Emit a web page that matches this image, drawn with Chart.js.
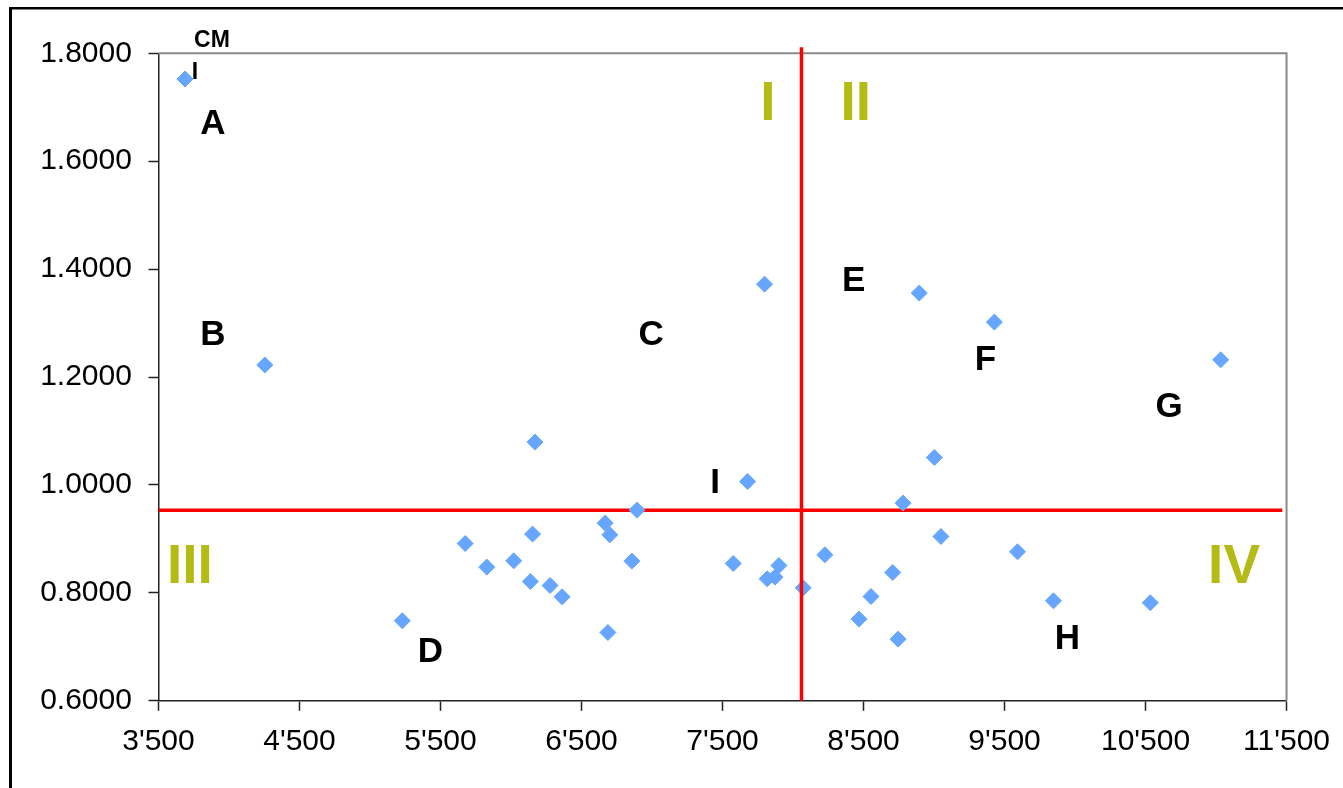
<!DOCTYPE html>
<html>
<head>
<meta charset="utf-8">
<script src="https://cdn.jsdelivr.net/npm/chart.js@4"></script>
<style>
  html, body { margin: 0; padding: 0; background: #fff; }
  #wrap { width: 1343px; height: 788px; position: relative; }
</style>
</head>
<body>
<div id="wrap"><canvas id="c" width="1343" height="788"></canvas></div>
<script>
// ---- data ----
const xValues = [3688, 4254, 6170, 7798, 8895, 9428, 11033, 7678, 9002, 8780,
                 6893, 6668, 6701, 6153, 5675, 9049, 9592, 8226, 5828, 6019,
                 6857, 7576, 7900, 7817, 7872, 6137, 6277, 8707, 6362, 8072,
                 8553, 9847, 10534, 5229, 8468, 6687, 8745];
const yValues = [1.7523, 1.2223, 1.0794, 1.3722, 1.3556, 1.3018, 1.2319, 1.0064, 1.0509, 0.9664,
                 0.9534, 0.9293, 0.9076, 0.9089, 0.8915, 0.9045, 0.8761, 0.8706, 0.8478, 0.8594,
                 0.8589, 0.8545, 0.8507, 0.8261, 0.8292, 0.8211, 0.8137, 0.8378, 0.7927, 0.8094,
                 0.7933, 0.7853, 0.7816, 0.7483, 0.7514, 0.7266, 0.7143];
const splitX = 8060;
const splitY = 0.953;
const xTicks = [3500, 4500, 5500, 6500, 7500, 8500, 9500, 10500, 11500];
const yTicks = [0.6, 0.8, 1.0, 1.2, 1.4, 1.6, 1.8];

// annotation texts placed in data coordinates
const letterTexts = ['A', 'B', 'C', 'D', 'E', 'F', 'G', 'H', 'I'];
const letterX = [3886, 3886, 6994, 5429, 8431, 9365, 10668, 9946, 7447];
const letterY = [1.673, 1.282, 1.282, 0.696, 1.382, 1.236, 1.1486, 0.7186, 1.0077];
const smallTexts = ['CM', 'I'];
const smallX = [3879, 3758];
const smallY = [1.8268, 1.7675];
const quadTexts = ['I', 'II', 'III', 'IV'];
const quadX = [7822, 8445, 3723, 11128];
const quadY = [1.712, 1.712, 0.8557, 0.8557];

// ---- build ----
const points = xValues.map((x, i) => ({ x: x, y: yValues[i] }));
const fmtX = v => String(Math.round(v)).replace(/\B(?=(\d{3})+(?!\d))/g, "'");

const decor = {
  id: 'decor',
  beforeDraw(chart) {
    const ctx = chart.ctx;
    ctx.save();
    ctx.fillStyle = '#fff';
    ctx.fillRect(0, 0, chart.width, chart.height);
    ctx.fillStyle = '#000';
    ctx.fillRect(9, 7, 3, chart.height);
    ctx.fillRect(9, 7, chart.width, 2.5);
    ctx.restore();
  },
  beforeDatasetsDraw(chart) {
    const ctx = chart.ctx, a = chart.chartArea;
    ctx.save();
    ctx.strokeStyle = '#8a8a8a';
    ctx.lineWidth = 2;
    ctx.beginPath();
    ctx.moveTo(a.left, a.top);
    ctx.lineTo(a.right, a.top);
    ctx.lineTo(a.right, a.bottom);
    ctx.stroke();
    ctx.restore();
  },
  afterDatasetsDraw(chart) {
    const ctx = chart.ctx, xs = chart.scales.x, ys = chart.scales.y;
    ctx.save();
    ctx.textAlign = 'center';
    ctx.textBaseline = 'alphabetic';
    const put = (texts, xv, yv, size, color) => {
      ctx.font = 'bold ' + size + 'px "Liberation Sans", Arial, sans-serif';
      ctx.fillStyle = color;
      texts.forEach((t, i) => {
        const px = xs.getPixelForValue(xv[i]);
        const py = ys.getPixelForValue(yv[i]) + size * 0.358;
        ctx.fillText(t, px, py);
      });
    };
    put(letterTexts, letterX, letterY, 35, '#000');
    put(smallTexts, smallX, smallY, 23, '#000');
    put(quadTexts, quadX, quadY, 55, '#B4BB14');
    ctx.restore();
  }
};

new Chart(document.getElementById('c'), {
  type: 'scatter',
  data: {
    datasets: [
      {
        label: 'vertical',
        data: [{ x: splitX, y: 0.6 }, { x: splitX, y: 1.811 }],
        showLine: true,
        borderColor: '#FF0000',
        borderWidth: 3.5,
        pointRadius: 0,
        clip: false,
        order: 0
      },
      {
        label: 'data',
        data: points,
        pointStyle: 'rectRot',
        pointRadius: 8,
        pointBorderWidth: 1,
        backgroundColor: '#66A6FF',
        borderColor: '#66A6FF',
        order: 1
      },
      {
        label: 'horizontal',
        data: [{ x: 3500, y: splitY }, { x: 11470, y: splitY }],
        showLine: true,
        borderColor: '#FF0000',
        borderWidth: 3.5,
        pointRadius: 0,
        order: 2
      }
    ]
  },
  options: {
    responsive: false,
    animation: false,
    devicePixelRatio: 1,
    layout: { padding: { left: 0, top: 53.3, right: 54.5, bottom: 0 } },
    plugins: { legend: { display: false }, tooltip: { enabled: false } },
    scales: {
      x: {
        type: 'linear',
        min: 3500, max: 11500,
        afterFit(s) { s.height = 788 - 700.8; },
        afterBuildTicks(s) { s.ticks = xTicks.map(v => ({ value: v })); },
        border: { display: true, color: '#222', width: 1.5 },
        grid: { drawOnChartArea: false, drawTicks: true, tickLength: 10, tickColor: '#222', tickWidth: 1.5 },
        ticks: {
          padding: 13,
          maxRotation: 0,
          autoSkip: false,
          color: '#000',
          font: { family: '"Liberation Sans", Arial, sans-serif', size: 30 },
          callback: v => fmtX(v)
        }
      },
      y: {
        type: 'linear',
        min: 0.6, max: 1.8,
        afterFit(s) { s.width = 158.5; },
        afterBuildTicks(s) { s.ticks = yTicks.map(v => ({ value: v })); },
        border: { display: true, color: '#222', width: 1.5 },
        grid: { drawOnChartArea: false, drawTicks: true, tickLength: 10, tickColor: '#222', tickWidth: 1.5 },
        ticks: {
          padding: 16.6,
          autoSkip: false,
          color: '#000',
          font: { family: '"Liberation Sans", Arial, sans-serif', size: 30 },
          callback: v => Number(v).toFixed(4)
        }
      }
    }
  },
  plugins: [decor]
});
</script>
</body>
</html>
